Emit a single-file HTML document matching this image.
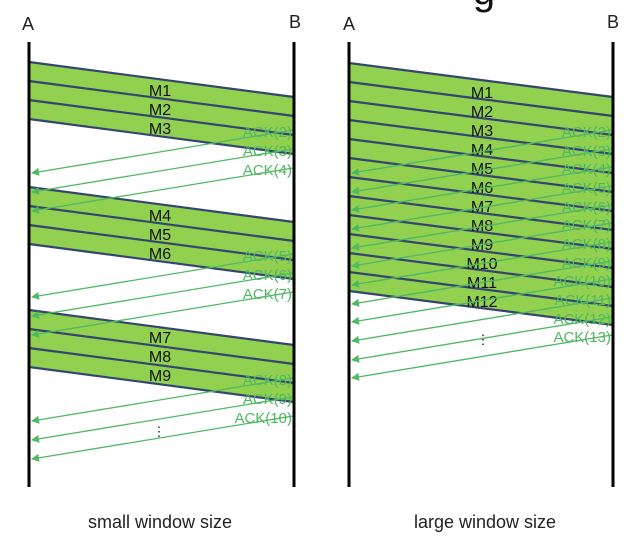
<!DOCTYPE html>
<html><head><meta charset="utf-8"><style>
html,body{margin:0;padding:0;background:#fff;}
svg{display:block;}
.m{font-family:"Liberation Sans",sans-serif;font-size:16px;fill:#111;text-anchor:middle;}
.a{font-family:"Liberation Sans",sans-serif;font-size:15px;fill:#4fb863;text-anchor:end;}
.t{font-family:"Liberation Sans",sans-serif;font-size:18px;fill:#222;text-anchor:middle;}
.b{stroke:#34466f;stroke-width:2.2;}
.k{stroke:#4fb863;stroke-width:1.3;fill:none;marker-end:url(#ar);}
</style></head><body>
<svg width="630" height="542" viewBox="0 0 630 542" xmlns="http://www.w3.org/2000/svg">
<defs><marker id="ar" markerWidth="8" markerHeight="8" refX="7" refY="4" orient="auto" markerUnits="userSpaceOnUse"><path d="M0,0 L8,4 L0,8 z" fill="#4fb863"/></marker></defs>
<text x="484" y="4" class="t" style="font-size:40px;fill:#111">g</text>
<text x="28" y="30" class="t">A</text><text x="295" y="28" class="t">B</text>
<text x="349" y="30" class="t">A</text><text x="613" y="28" class="t">B</text>
<!-- left bands -->
<polygon points="29,62 294,97 294,154 29,119" fill="#92d050"/>
<polygon points="29,187 294,222 294,279 29,244" fill="#92d050"/>
<polygon points="29,310 294,345 294,402 29,367" fill="#92d050"/>
<g class="b">
<line x1="29" y1="62" x2="294" y2="97"/><line x1="29" y1="81" x2="294" y2="116"/><line x1="29" y1="100" x2="294" y2="135"/><line x1="29" y1="119" x2="294" y2="154"/>
<line x1="29" y1="187" x2="294" y2="222"/><line x1="29" y1="206" x2="294" y2="241"/><line x1="29" y1="225" x2="294" y2="260"/><line x1="29" y1="244" x2="294" y2="279"/>
<line x1="29" y1="310" x2="294" y2="345"/><line x1="29" y1="329" x2="294" y2="364"/><line x1="29" y1="348" x2="294" y2="383"/><line x1="29" y1="367" x2="294" y2="402"/>
</g>
<text x="160" y="96" class="m">M1</text><text x="160" y="115" class="m">M2</text><text x="160" y="134" class="m">M3</text>
<text x="160" y="221" class="m">M4</text><text x="160" y="240" class="m">M5</text><text x="160" y="259" class="m">M6</text>
<text x="160" y="343" class="m">M7</text><text x="160" y="362" class="m">M8</text><text x="160" y="381" class="m">M9</text>
<g class="k">
<line x1="293" y1="130" x2="32" y2="173"/><line x1="293" y1="149" x2="32" y2="192"/><line x1="293" y1="168" x2="32" y2="211"/>
<line x1="293" y1="254" x2="32" y2="297"/><line x1="293" y1="273" x2="32" y2="316"/><line x1="293" y1="292" x2="32" y2="335"/>
<line x1="293" y1="378" x2="32" y2="421"/><line x1="293" y1="397" x2="32" y2="440"/><line x1="293" y1="416" x2="32" y2="459"/>
</g>
<text x="292" y="137" class="a">ACK(2)</text><text x="292" y="156" class="a">ACK(3)</text><text x="292" y="175" class="a">ACK(4)</text>
<text x="292" y="261" class="a">ACK(5)</text><text x="292" y="280" class="a">ACK(6)</text><text x="292" y="299" class="a">ACK(7)</text>
<text x="292" y="385" class="a">ACK(8)</text><text x="292" y="404" class="a">ACK(9)</text><text x="292" y="423" class="a">ACK(10)</text>
<text x="159" y="436" class="m" style="font-size:13px">⋮</text>
<line x1="29" y1="42" x2="29" y2="487" stroke="#000" stroke-width="3"/>
<line x1="294" y1="42" x2="294" y2="487" stroke="#000" stroke-width="3"/>
<!-- right -->
<polygon points="349,63 613,97 613,325 349,291" fill="#92d050"/>
<g class="b">
<line x1="349" y1="63" x2="613" y2="97"/><line x1="349" y1="82" x2="613" y2="116"/><line x1="349" y1="101" x2="613" y2="135"/><line x1="349" y1="120" x2="613" y2="154"/>
<line x1="349" y1="139" x2="613" y2="173"/><line x1="349" y1="158" x2="613" y2="192"/><line x1="349" y1="177" x2="613" y2="211"/><line x1="349" y1="196" x2="613" y2="230"/>
<line x1="349" y1="215" x2="613" y2="249"/><line x1="349" y1="234" x2="613" y2="268"/><line x1="349" y1="253" x2="613" y2="287"/><line x1="349" y1="272" x2="613" y2="306"/>
<line x1="349" y1="291" x2="613" y2="325"/>
</g>
<text x="482" y="98" class="m">M1</text><text x="482" y="117" class="m">M2</text><text x="482" y="136" class="m">M3</text><text x="482" y="155" class="m">M4</text>
<text x="482" y="174" class="m">M5</text><text x="482" y="193" class="m">M6</text><text x="482" y="212" class="m">M7</text><text x="482" y="231" class="m">M8</text>
<text x="482" y="250" class="m">M9</text><text x="482" y="269" class="m">M10</text><text x="482" y="288" class="m">M11</text><text x="482" y="307" class="m">M12</text>
<g class="k">
<line x1="612" y1="130" x2="352" y2="173"/><line x1="612" y1="149" x2="352" y2="192"/><line x1="612" y1="167" x2="352" y2="210"/><line x1="612" y1="186" x2="352" y2="229"/>
<line x1="612" y1="205" x2="352" y2="248"/><line x1="612" y1="223" x2="352" y2="266"/><line x1="612" y1="242" x2="352" y2="285"/><line x1="612" y1="261" x2="352" y2="304"/>
<line x1="612" y1="279" x2="352" y2="322"/><line x1="612" y1="298" x2="352" y2="341"/><line x1="612" y1="317" x2="352" y2="360"/><line x1="612" y1="335" x2="352" y2="378"/>
</g>
<text x="611" y="137" class="a">ACK(2)</text><text x="611" y="156" class="a">ACK(3)</text><text x="611" y="174" class="a">ACK(4)</text><text x="611" y="193" class="a">ACK(5)</text>
<text x="611" y="212" class="a">ACK(6)</text><text x="611" y="230" class="a">ACK(7)</text><text x="611" y="249" class="a">ACK(8)</text><text x="611" y="268" class="a">ACK(9)</text>
<text x="611" y="286" class="a">ACK(10)</text><text x="611" y="305" class="a">ACK(11)</text><text x="611" y="324" class="a">ACK(12)</text><text x="611" y="342" class="a">ACK(13)</text>
<text x="483" y="344" class="m" style="font-size:13px">⋮</text>
<line x1="349" y1="42" x2="349" y2="487" stroke="#000" stroke-width="3"/>
<line x1="613" y1="42" x2="613" y2="487" stroke="#000" stroke-width="3"/>
<text x="160" y="528" class="t">small window size</text>
<text x="485" y="528" class="t">large window size</text>
</svg>
</body></html>
